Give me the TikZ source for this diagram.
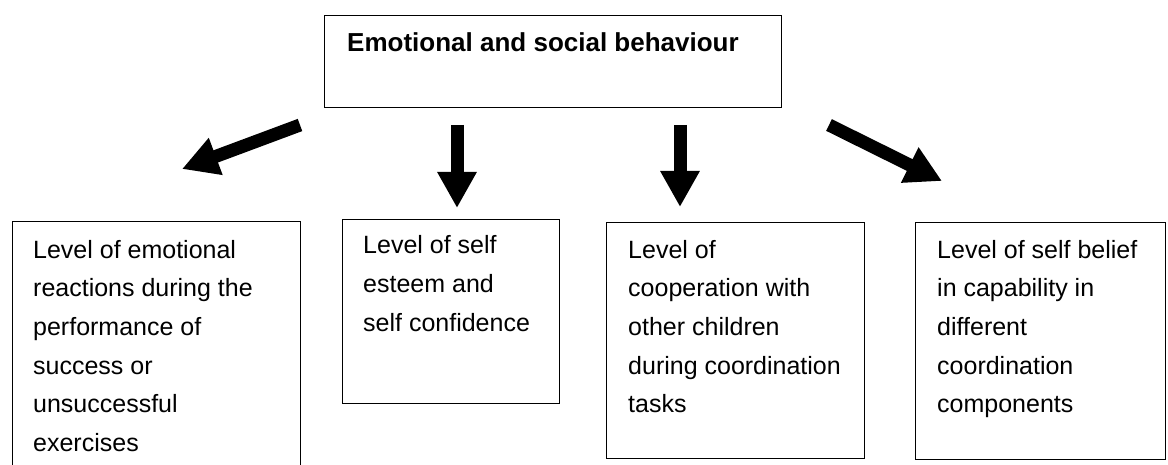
\documentclass[tikz,border=0pt]{standalone}
\usepackage{fontspec}
\setmainfont{Liberation Sans}
\usetikzlibrary{arrows.meta}
\begin{document}
\begin{tikzpicture}[x=1pt,y=-1pt,
  box/.style={draw, line width=1.4pt, inner sep=0pt, anchor=north west},
  txt/.style={anchor=north west, inner sep=0pt, align=left, font=\fontsize{25}{38.6}\selectfont},
  txtb/.style={anchor=north west, inner sep=0pt, align=left, font=\fontsize{25}{39}\selectfont},
  title/.style={anchor=base west, inner sep=0pt, font=\fontsize{26}{30}\selectfont\bfseries},
  bigarrow/.style={line width=13pt, -{Triangle[length=36pt,width=37pt]}}]
\fill[white] (0,0) rectangle (1168,465);
\path[use as bounding box, clip] (0,0) rectangle (1168,465);

% top box
\node[box, minimum width=457pt, minimum height=92pt] (top) at (324,15) {};
\node[title] (ttop) at (347,52) {Emotional and social behaviour};

% lower boxes
\node[box, minimum width=288pt, minimum height=290pt] (b1) at (12,221) {};
\node[box, minimum width=217pt, minimum height=184pt] (b2) at (342,219) {};
\node[box, minimum width=258pt, minimum height=236pt] (b3) at (606,222) {};
\node[box, minimum width=250pt, minimum height=237pt] (b4) at (915,222) {};

% text blocks (first baseline = top + 0.7 x baselineskip)
\node[txt] (t1) at (33,231) {\strut Level of emotional\\reactions during the\\performance of\\success or\\unsuccessful\\exercises};
\node[txtb] (t2) at (363,225.7) {\strut Level of self\\esteem and\\self confidence};
\node[txt] (t3) at (628,231) {\strut Level of\\cooperation with\\other children\\during coordination\\tasks};
\node[txt] (t4) at (937,231) {\strut Level of self belief\\in capability in\\different\\coordination\\components};

% arrows
\coordinate (a1s) at (300,125);
\coordinate (a1e) at (182,169);
\coordinate (a2s) at (457,125);
\coordinate (a2e) at (457,208);
\coordinate (a3s) at (680,125);
\coordinate (a3e) at (680,207);
\coordinate (a4s) at (829,125);
\coordinate (a4e) at (942,181);
\draw[bigarrow] (a1s) -- (a1e);
\draw[bigarrow] (a2s) -- (a2e);
\draw[bigarrow] (a3s) -- (a3e);
\draw[bigarrow] (a4s) -- (a4e);
\end{tikzpicture}
\end{document}
